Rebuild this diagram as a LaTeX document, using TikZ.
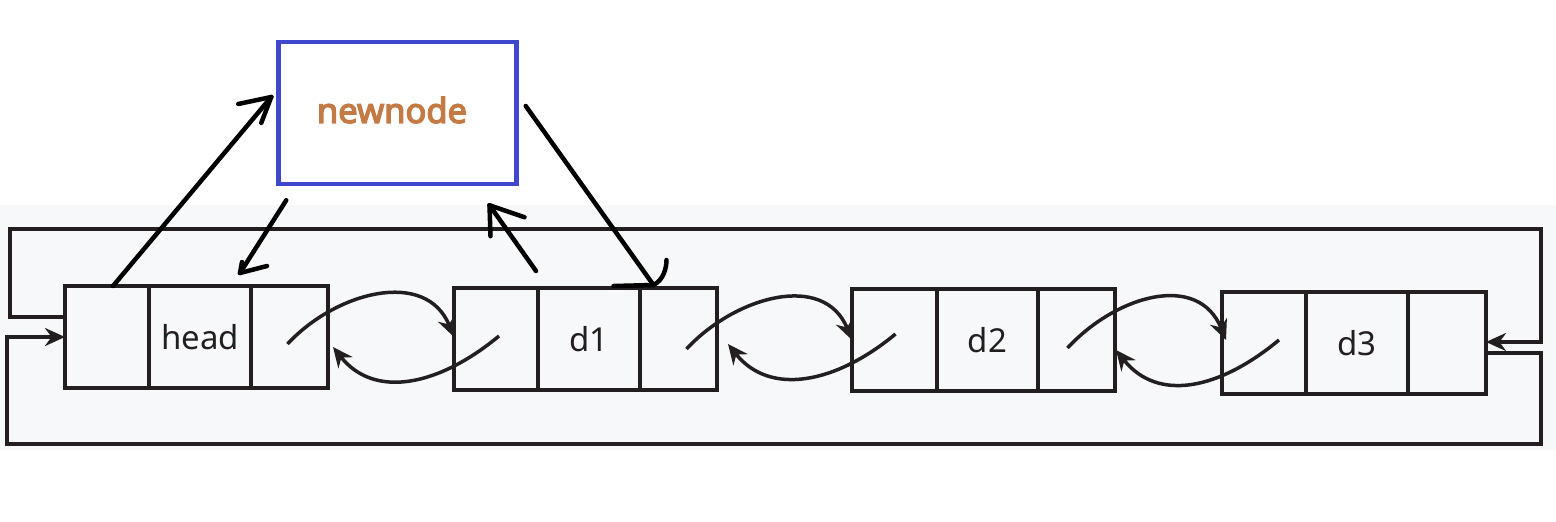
\documentclass[tikz,border=0pt]{standalone}
\usepackage{fontspec}
\setmainfont{Noto Sans}
\newfontfamily\nnfont{Noto Sans}[FakeBold=4]
\usetikzlibrary{arrows.meta,calc}
\definecolor{ink}{HTML}{231F20}
\definecolor{bgpanel}{HTML}{F6F8FA}
\definecolor{nnblue}{HTML}{3F48CC}
\definecolor{nntext}{HTML}{C47A45}
\begin{document}
\begin{tikzpicture}[x=1pt,y=-1pt,
  cell/.style={draw=ink, line width=3.5pt, minimum height=102pt, inner sep=0pt, outer sep=0pt,
    font=\fontsize{33}{40}\selectfont, text=ink},
  link/.style={draw=ink, line width=3.5pt, -{Stealth[length=20pt,width=18pt]}},
  loopline/.style={draw=ink, line width=3.5pt, -{Stealth[length=20pt,width=18pt]}},
  hand/.style={draw=black, line width=4.5pt, line cap=round, line join=round},
]
\path[use as bounding box] (0,0) rectangle (1556,522);
\fill[bgpanel] (0,205) rectangle (1556,450);

% new node
\node[draw=nnblue, line width=4.5pt, minimum width=238pt, minimum height=142pt, inner sep=0pt]
  (newnode) at (397.5,113) {};
\node[text=nntext, font=\fontsize{34.5}{40}\selectfont\nnfont] (nnlabel) at (392,110) {newnode};

% head
\node[cell, minimum width=84pt]  (hA) at (107,337) {};
\node[cell, minimum width=102pt] (hB) at (200,337) {head};
\node[cell, minimum width=77pt]  (hC) at (289.5,337) {};
% d1
\node[cell, minimum width=84pt]  (aA) at (496,339) {};
\node[cell, minimum width=102pt] (aB) at (589,339) {d1};
\node[cell, minimum width=77pt]  (aC) at (678.5,339) {};
% d2
\node[cell, minimum width=85pt]  (bA) at (894.5,340) {};
\node[cell, minimum width=101pt] (bB) at (987.5,340) {d2};
\node[cell, minimum width=77pt]  (bC) at (1076.5,340) {};
% d3
\node[cell, minimum width=84pt]  (cA) at (1264,343) {};
\node[cell, minimum width=102pt] (cB) at (1357,343) {d3};
\node[cell, minimum width=78pt]  (cC) at (1447,343) {};

% outer loop
\draw[loopline] ($(hA.west)+(0,-20)$) -| (10,229) -| (1541,342) -- ($(cC.east)+(0,-1)$);
\draw[loopline] ($(cC.east)+(0,10)$) -| (1541,444) -| (7,337) -- (hA.west);

% forward links
\draw[link] ($(hC.center)+(-2,7)$) .. controls +(48,-52) and +(-28,-69) .. ($(aA.west)+(0,-2)$);
\draw[link] ($(aC.center)+(8,10)$) .. controls +(48,-52) and +(-28,-69) .. ($(bA.west)+(0,0)$);
\draw[link] ($(bC.center)+(-9,8)$) .. controls +(48,-52) and +(-28,-69) .. ($(cA.west)+(4,-3)$);
% backward links
\draw[link] ($(aA.center)+(3,-3)$) .. controls +(-59,49) and +(42,53) .. ($(hC.east)+(5,10)$);
\draw[link] ($(bA.center)+(1,-6)$) .. controls +(-59,49) and +(42,53) .. ($(aC.east)+(11,5)$);
\draw[link] ($(cA.center)+(15,-3)$) .. controls +(-59,49) and +(42,53) .. ($(bC.east)+(1,10)$);

% hand-drawn arrows
\coordinate (t1) at ($(newnode.west)+(-5,-16)$);
\draw[hand] ($(hA.north)+(6,0)$) -- (t1);
\draw[hand] (t1) -- ++(-33,7);
\draw[hand] (t1) -- ++(-10,26);

\coordinate (s2) at ($(newnode.south west)+(10,14)$);
\coordinate (t2) at ($(hB.north)+(40,-13)$);
\draw[hand] (s2) -- (t2);
\draw[hand] (t2) -- ++(27,-7);
\draw[hand] (t2) -- ++(2,-11);

\coordinate (s3) at ($(aB.north west)+(-2,-17)$);
\coordinate (t3) at ($(newnode.south)+(92,19)$);
\draw[hand] (s3) -- (t3);
\draw[hand] (t3) -- ++(35,12);
\draw[hand] (t3) -- ++(1,31);

\coordinate (t4) at ($(aC.north)+(-25,-3)$);
\draw[hand] ($(newnode.east)+(7,-7)$) -- (t4);
\draw[hand] (t4) -- ++(-40,1);
\draw[hand] (t4) .. controls +(10,-5) and +(0,8) .. ++(13,-25);
\end{tikzpicture}
\end{document}
